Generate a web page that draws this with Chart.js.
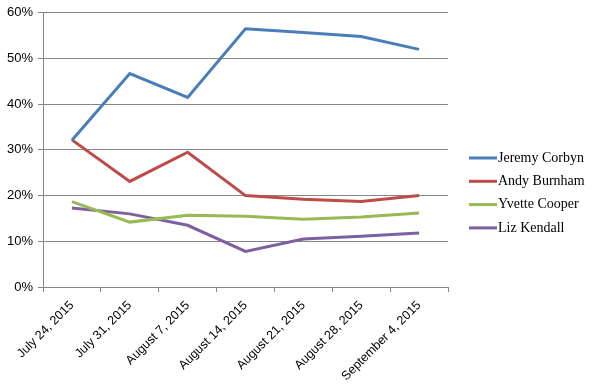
<!DOCTYPE html>
<html><head><meta charset="utf-8">
<script src="https://cdn.jsdelivr.net/npm/chart.js@4/dist/chart.umd.min.js"></script>
<style>html,body{margin:0;padding:0;background:#fff}#wrap{width:592px;height:389px;position:relative}</style>
</head><body><div id="wrap"><canvas id="c" width="592" height="389"></canvas></div>
<script>
const categories = ["July 24, 2015","July 31, 2015","August 7, 2015","August 14, 2015","August 21, 2015","August 28, 2015","September 4, 2015"];
const corbyn  = [32.1, 46.7, 41.5, 56.5, 55.7, 54.8, 52.0];
const burnham = [32.2, 23.1, 29.5, 20.0, 19.2, 18.7, 20.0];
const cooper  = [18.7, 14.2, 15.7, 15.5, 14.8, 15.3, 16.2];
const kendall = [17.3, 16.0, 13.5, 7.8, 10.5, 11.1, 11.8];
const seriesNames = ["Jeremy Corbyn","Andy Burnham","Yvette Cooper","Liz Kendall"];
const seriesColors = ["#4A7EBB","#BE4B48","#98B954","#7D60A0"];
const yTicks = [0,10,20,30,40,50,60];

const legendPlugin = {
  id: 'customLegend',
  afterDraw(chart) {
    const ctx = chart.ctx;
    ctx.save();
    ctx.font = '14px "Liberation Serif"';
    ctx.textBaseline = 'middle';
    chart.data.datasets.forEach((ds, i) => {
      const y = 158 + i * 23.3;
      ctx.strokeStyle = ds.borderColor;
      ctx.lineWidth = 3;
      ctx.beginPath(); ctx.moveTo(469, y); ctx.lineTo(497, y); ctx.stroke();
      ctx.fillStyle = '#000';
      ctx.fillText(ds.label, 498, y);
    });
    ctx.restore();
  }
};

const allSeries = [corbyn, burnham, cooper, kendall];
new Chart(document.getElementById('c'), {
  type: 'line',
  data: {
    labels: categories,
    datasets: allSeries.map((d, i) => ({
      label: seriesNames[i], data: d, borderColor: seriesColors[i], backgroundColor: seriesColors[i],
      borderWidth: 3, pointRadius: 0, tension: 0, fill: false
    }))
  },
  options: {
    responsive: false, animation: false,
    layout: { padding: { top: 12, right: 144, left: 0, bottom: 0 } },
    plugins: { legend: { display: false }, tooltip: { enabled: false } },
    scales: {
      x: {
        offset: true,
        grid: { offset: true, drawOnChartArea: false, drawTicks: true, tickLength: 5, color: '#868686' },
        border: { color: '#868686', width: 1 },
        ticks: { minRotation: 45, maxRotation: 45, autoSkip: false, padding: 6, color: '#000', font: { family: '"Liberation Sans"', size: 12.5 } },
        afterFit(s) { s.height = 102; }
      },
      y: {
        min: 0, max: 60,
        afterBuildTicks(s) { s.ticks = yTicks.map(v => ({ value: v })); },
        grid: { color: '#868686', tickLength: 5 },
        border: { color: '#868686', width: 1 },
        ticks: { padding: 5, color: '#000', font: { family: '"Liberation Sans"', size: 13 }, callback: v => v + '%' },
        afterFit(s) { s.width = 43; }
      }
    }
  },
  plugins: [legendPlugin]
});
</script></body></html>
